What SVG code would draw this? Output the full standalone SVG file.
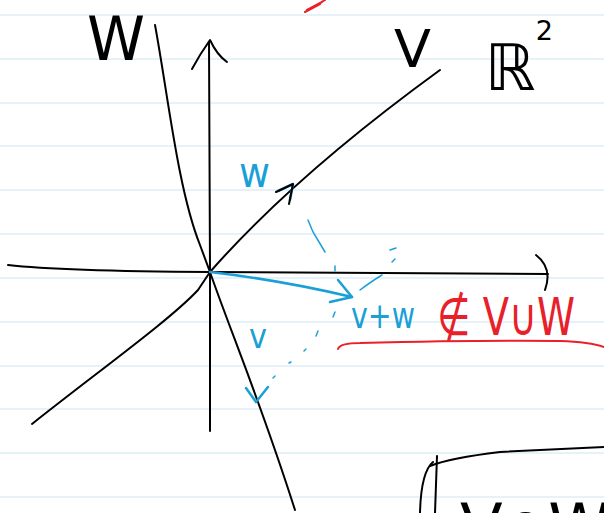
<svg xmlns="http://www.w3.org/2000/svg" width="604" height="513" viewBox="0 0 604 513">
<style>
.rule{stroke:#dcEEF9;stroke-width:1.5}
.ink{fill:none;stroke:#000;stroke-width:2;stroke-linecap:round;stroke-linejoin:round}
.blue{fill:none;stroke:#1a9fd6;stroke-width:2.5;stroke-linecap:round;stroke-linejoin:round}
.red{fill:none;stroke:#e8202a;stroke-width:2;stroke-linecap:round;stroke-linejoin:round}
.hb{font-family:"DejaVu Sans","Liberation Sans",sans-serif;font-weight:normal}
</style>
<rect width="604" height="513" fill="#fff"/>
<g id="ruling">
<line class="rule" x1="0" y1="15" x2="604" y2="15"/>
<line class="rule" x1="0" y1="59" x2="604" y2="59"/>
<line class="rule" x1="0" y1="103" x2="604" y2="103"/>
<line class="rule" x1="0" y1="146" x2="604" y2="146"/>
<line class="rule" x1="0" y1="190" x2="604" y2="190"/>
<line class="rule" x1="0" y1="234" x2="604" y2="234"/>
<line class="rule" x1="0" y1="278" x2="604" y2="278"/>
<line class="rule" x1="0" y1="322" x2="604" y2="322"/>
<line class="rule" x1="0" y1="366" x2="604" y2="366"/>
<line class="rule" x1="0" y1="409" x2="604" y2="409"/>
<line class="rule" x1="0" y1="453" x2="604" y2="453"/>
<line class="rule" x1="0" y1="497" x2="604" y2="497"/>
</g>
<g id="axes">
<path class="ink" d="M210,431 L210,270 L209,42"/>
<path class="ink" d="M192,69 Q200,54 210,40 Q217,55 227,62" stroke-width="2.5"/>
<path class="ink" d="M8,265 Q60,271 210,272 L548,274"/>
<path class="ink" d="M536,255 Q553,268 545,290" stroke-width="2.5"/>
</g>
<g id="line-V">
<path class="ink" d="M32,424 C100,370 170,320 198,290 L210,272 C260,215 330,150 440,70"/>
</g>
<g id="line-W">
<path class="ink" d="M155,25 C168,95 178,190 200,245 L210,272 C230,330 260,400 295,510"/>
</g>
<g id="labels">
<text class="hb" x="87" y="60" font-size="60" textLength="58" lengthAdjust="spacingAndGlyphs">W</text>
<text class="hb" x="394" y="67" font-size="52" textLength="37" lengthAdjust="spacingAndGlyphs">V</text>
<text class="hb" x="485" y="90" font-size="64">ℝ<tspan font-size="27" dy="-50">2</tspan></text>
</g>
<g id="vectors">
<path class="blue" d="M278,191 L293,184 L290,200" stroke-width="3"/>
<path class="ink" d="M276,192 L293,184 L289,204"/>
<path class="blue" d="M210,272 Q280,280 352,297"/>
<path class="blue" d="M338,280 L352,297 L330,302" stroke-width="3.5"/>
<path class="blue" d="M246,388 L256,402 L268,387" stroke-width="3.5"/>
<g fill="none" stroke="#1a9fd6" stroke-width="1.5" stroke-linecap="round">
<path d="M308,220 L313,232 L325,252"/>
<path d="M335,266 L335,271"/>
<path d="M360,290 Q372,281 382,275"/>
<path d="M390,250 L396,248"/>
<path d="M392,262 L395,259"/>
<path d="M335,312 L333,317"/>
<path d="M318,331 L316,336"/>
<path d="M306,349 L304,351"/>
<path d="M291,362 L289,363"/>
<path d="M275,376 L273,378"/>
</g>
<text class="hb" x="239" y="187" font-size="42" fill="#1a9fd6" textLength="31" lengthAdjust="spacingAndGlyphs">w</text>
<text class="hb" x="249" y="348" font-size="34" fill="#1a9fd6" textLength="18" lengthAdjust="spacingAndGlyphs">v</text>
<text class="hb" x="351" y="328" font-size="36" fill="#1a9fd6" textLength="64" lengthAdjust="spacingAndGlyphs">v+w</text>
</g>
<g id="red-note">
<path class="red" d="M305,12 L320,4 M307,10 L322,2 M310,9 L325,0"/>
<text class="hb" transform="translate(437,335) scale(1,1.3)" x="0" y="0" font-size="40" fill="#e8202a" textLength="138" lengthAdjust="spacingAndGlyphs">∉ V∪W</text>
<path class="red" d="M338,349 Q340,343 360,343 Q480,340 560,341 Q590,342 604,347"/>
</g>
<g id="bottom-box">
<path class="ink" d="M433,462 Q421,472 420,513"/>
<path class="ink" d="M437,456 L435,513"/>
<path class="ink" d="M430,466 Q450,458 500,452 L604,447"/>
<text class="hb" x="460" y="548" font-size="62" textLength="150" lengthAdjust="spacingAndGlyphs">V∩W</text>
</g>
</svg>
